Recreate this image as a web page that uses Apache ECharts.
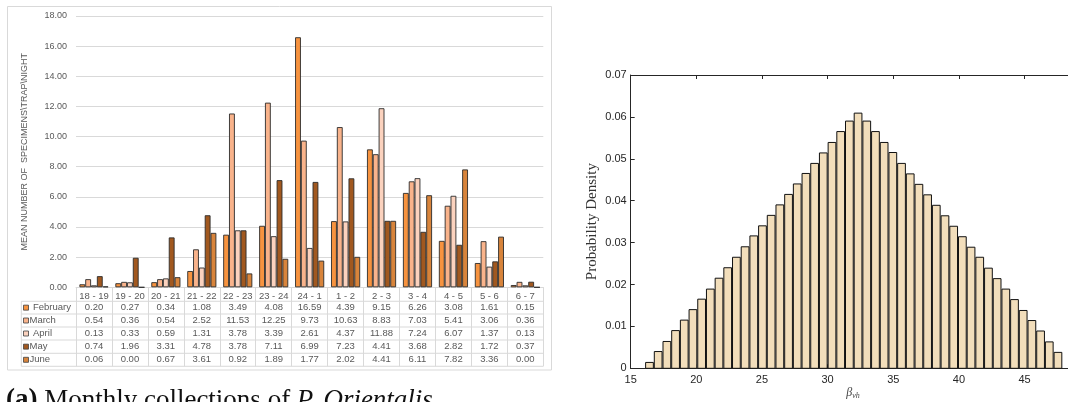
<!DOCTYPE html>
<html><head><meta charset="utf-8">
<script src="https://cdn.jsdelivr.net/npm/echarts@6/dist/echarts.min.js"></script>
<style>html,body{margin:0;padding:0;background:#fff}#c{width:1068px;height:402px}</style>
</head><body><div id="c"></div>
<script>
// ---------- Left panel data ----------
const hours = ['18 - 19','19 - 20','20 - 21','21 - 22','22 - 23','23 - 24','24 - 1','1 - 2','2 - 3','3 - 4','4 - 5','5 - 6','6 - 7'];
const months = ['February','March','April','May','June'];
const february = [0.20,0.27,0.34,1.08,3.49,4.08,16.59,4.39,9.15,6.26,3.08,1.61,0.15];
const march    = [0.54,0.36,0.54,2.52,11.53,12.25,9.73,10.63,8.83,7.03,5.41,3.06,0.36];
const april    = [0.13,0.33,0.59,1.31,3.78,3.39,2.61,4.37,11.88,7.24,6.07,1.37,0.13];
const may      = [0.74,1.96,3.31,4.78,3.78,7.11,6.99,7.23,4.41,3.68,2.82,1.72,0.37];
const june     = [0.06,0.00,0.67,3.61,0.92,1.89,1.77,2.02,4.41,6.11,7.82,3.36,0.00];
const monthValues = [february, march, april, may, june];
const barYTicks = [0,2,4,6,8,10,12,14,16,18];

// ---------- Right panel data ----------
const histDensity = [
  0.0014,0.0040,0.0064,0.0090,0.0115,0.0140,0.0165,0.0189,0.0215,0.0240,0.0265,0.0290,
  0.0316,0.0340,0.0365,0.0390,0.0415,0.0440,0.0465,0.0489,0.0514,0.0539,0.0565,0.0590,
  0.0609,
  0.0590,0.0565,0.0539,0.0515,0.0489,0.0464,0.0439,0.0414,0.0389,0.0364,0.0339,0.0314,
  0.0289,0.0265,0.0239,0.0214,0.0189,0.0164,0.0138,0.0114,0.0089,0.0063,0.0038
];
const histBinStart = 16.10;
const histBinWidth = 0.662;
const histXTicks = [15,20,25,30,35,40,45];
const histYTicks = [0,0.01,0.02,0.03,0.04,0.05,0.06,0.07];

// ---------- styles ----------
const monthColors = ['#F7933F','#F9B38B','#FBD2BE','#A1581F','#D8843B'];
const legendTextX = [33, 29.5, 33, 29.5, 29.5];
const gridGray = '#D9D9D9';
const txtGray = '#595959';
const ink = '#262626';
const serif = 'Liberation Serif';

const chart = echarts.init(document.getElementById('c'), null, {renderer:'canvas'});

const option = {
  animation: false,
  backgroundColor: '#fff',
  textStyle: {fontFamily: 'Liberation Sans'},
  grid: [
    {left: 76, top: 16, width: 467.3, height: 271.3},
    {left: 630.7, top: 75, width: 437.3, height: 293.3}
  ],
  xAxis: [
    {gridIndex: 0, type: 'category', data: hours,
     axisLine: {lineStyle: {color: gridGray, width: 1}},
     axisTick: {show: true, length: 79, lineStyle: {color: gridGray}},
     axisLabel: {fontSize: 9.5, color: txtGray, margin: 4, interval: 0},
     splitLine: {show: false}},
    {gridIndex: 1, type: 'value', min: 15, max: 48.31, position: 'bottom',
     axisLine: {show: true, onZero: false, lineStyle: {color: ink, width: 1}},
     axisTick: {show: true, inside: true, length: 4, customValues: histXTicks, lineStyle: {color: ink}},
     axisLabel: {customValues: histXTicks, fontSize: 11, color: ink, margin: 6},
     splitLine: {show: false}},
    {gridIndex: 1, type: 'value', min: 15, max: 48.31, position: 'top',
     axisLine: {show: true, onZero: false, lineStyle: {color: ink, width: 1}},
     axisTick: {show: true, inside: true, length: 4, customValues: histXTicks, lineStyle: {color: ink}},
     axisLabel: {show: false},
     splitLine: {show: false}}
  ],
  yAxis: [
    {gridIndex: 0, type: 'value', min: 0, max: 18, interval: 2,
     axisLine: {show: false}, axisTick: {show: false},
     axisLabel: {customValues: barYTicks, formatter: v => v.toFixed(2), fontSize: 9, color: txtGray, margin: 9},
     splitLine: {lineStyle: {color: gridGray, width: 1}},
     name: 'MEAN NUMBER OF  SPECIMENS\\TRAP\\NIGHT', nameLocation: 'middle', nameGap: 47,
     nameTextStyle: {fontSize: 9, color: txtGray}},
    {gridIndex: 1, type: 'value', min: 0, max: 0.07, interval: 0.01,
     axisLine: {show: true, onZero: false, lineStyle: {color: ink, width: 1}},
     axisTick: {show: true, inside: true, length: 4, lineStyle: {color: ink}},
     axisLabel: {customValues: histYTicks, formatter: v => (v === 0 ? '0' : v.toFixed(2)), fontSize: 11, color: ink, margin: 4},
     splitLine: {show: false},
     name: 'Probability Density', nameLocation: 'middle', nameGap: 31,
     nameTextStyle: {fontFamily: serif, fontSize: 15, color: '#333'}}
  ],
  series: months.map((m, k) => ({
    type: 'bar', name: m, xAxisIndex: 0, yAxisIndex: 0,
    data: monthValues[k], barGap: 0, barCategoryGap: '19%', silent: true,
    itemStyle: {color: monthColors[k], borderColor: '#2b2b2b', borderWidth: 0.9}
  })).concat([{
    type: 'custom', xAxisIndex: 1, yAxisIndex: 1, silent: true,
    data: histDensity.map((v, i) => [i, v]),
    encode: {y: 1},
    renderItem: (params, api) => {
      const i = api.value(0), v = api.value(1);
      const x0 = histBinStart + i * histBinWidth;
      const pad = histBinWidth * 0.055;
      const p0 = api.coord([x0 + pad, v]);
      const p1 = api.coord([x0 + histBinWidth - pad, 0]);
      return {type: 'rect',
        shape: {x: p0[0], y: p0[1], width: p1[0] - p0[0], height: p1[1] - p0[1]},
        style: {fill: '#F2DEBB', stroke: '#111', lineWidth: 1}};
    }
  }])
};
chart.setOption(option);

// ---------- table under the left chart ----------
const centers = hours.map(h => chart.convertToPixel({xAxisIndex: 0}, h));
const colW = centers[1] - centers[0];
const tableRight = centers[centers.length - 1] + colW / 2;
const tableLeft = 21.3;
const rowLines = [301.3, 314, 327, 340, 353.3, 366.3];
const g = [];
g.push({type: 'rect', shape: {x: 7.5, y: 6.5, width: 544, height: 363.5}, style: {fill: 'transparent', stroke: gridGray, lineWidth: 1}, silent: true});
rowLines.forEach(y => g.push({type: 'line', shape: {x1: tableLeft, y1: y, x2: tableRight, y2: y}, style: {stroke: gridGray, lineWidth: 1}, silent: true}));
g.push({type: 'line', shape: {x1: tableLeft, y1: rowLines[0], x2: tableLeft, y2: rowLines[5]}, style: {stroke: gridGray, lineWidth: 1}, silent: true});
months.forEach((m, k) => {
  const cy = (rowLines[k] + rowLines[k + 1]) / 2;
  g.push({type: 'rect', shape: {x: 23.5, y: cy - 2.5, width: 5, height: 5}, style: {fill: monthColors[k], stroke: '#404040', lineWidth: 0.8}, silent: true});
  g.push({type: 'text', x: legendTextX[k], y: cy, style: {text: m, fill: txtGray, fontSize: 9.5, fontFamily: 'Liberation Sans', align: 'left', verticalAlign: 'middle'}, silent: true});
  monthValues[k].forEach((v, i) => {
    g.push({type: 'text', x: centers[i], y: cy, style: {text: v.toFixed(2), fill: txtGray, fontSize: 9.5, fontFamily: 'Liberation Sans', align: 'center', verticalAlign: 'middle'}, silent: true});
  });
});
// caption
g.push({type: 'text', x: 6, y: 387, silent: true, style: {
  text: '{b|(a)}  {n|Monthly collections of }{i|P. Orientalis}',
  align: 'left', verticalAlign: 'top',
  rich: {
    b: {fontFamily: serif, fontWeight: 'bold', fontSize: 27, fill: '#111'},
    n: {fontFamily: serif, fontSize: 27, fill: '#111'},
    i: {fontFamily: serif, fontStyle: 'italic', fontSize: 27, fill: '#111'}
  }}});
// x-axis name of the histogram
g.push({type: 'text', x: 853, y: 393, silent: true, style: {
  text: '{b|β}{s|vh}', align: 'center', verticalAlign: 'middle',
  rich: {
    b: {fontFamily: serif, fontStyle: 'italic', fontSize: 12, fill: '#444'},
    s: {fontFamily: serif, fontStyle: 'italic', fontSize: 8, fill: '#444', padding: [5, 0, 0, 0]}
  }}});
chart.setOption({graphic: g});
</script></body></html>
